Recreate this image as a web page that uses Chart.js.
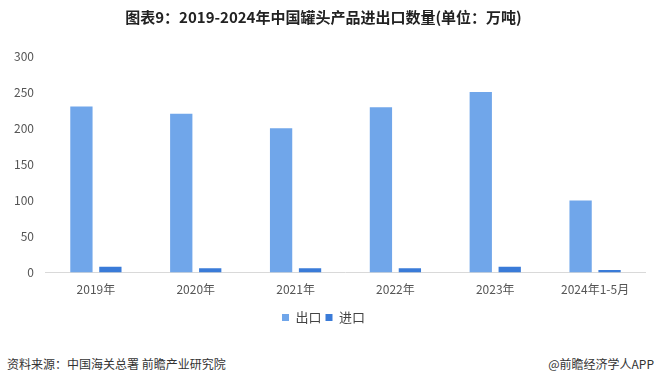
<!DOCTYPE html>
<html>
<head>
<meta charset="utf-8">
<script src="https://cdn.jsdelivr.net/npm/chart.js@4/dist/chart.umd.min.js"></script>
<style>
  html, body { margin: 0; padding: 0; background: #fff; }
  body { width: 660px; height: 385px; position: relative; overflow: hidden;
         font-family: "Noto Sans CJK SC", "Noto Sans", sans-serif; }
  #wrap { position: absolute; left: 0; top: 0; width: 660px; height: 344px; }
  .foot { position: absolute; top: 355px; font-size: 12px; color: #333; }
  #src { left: 7px; }
  #app { right: 6px; }
</style>
</head>
<body>
<div id="wrap"><canvas id="chart"></canvas></div>
<div class="foot" id="src">资料来源：中国海关总署 前瞻产业研究院</div>
<div class="foot" id="app">@前瞻经济学人APP</div>
<script>
// 数据
const categories = ['2019年', '2020年', '2021年', '2022年', '2023年', '2024年1-5月'];
const exportValues = [230, 220, 200, 229, 250, 100];
const importValues = [8, 6, 6, 6, 8, 3.5];
const yTicks = [0, 50, 100, 150, 200, 250, 300];

const fontFamily = '"Noto Sans CJK SC", "Noto Sans", sans-serif';

new Chart(document.getElementById('chart'), {
    type: 'bar',
    data: {
        labels: categories,
        datasets: [
            {
                label: '出口',
                data: exportValues,
                backgroundColor: '#70a6ea',
                categoryPercentage: 0.58,
                barPercentage: 0.77
            },
            {
                label: '进口',
                data: importValues,
                backgroundColor: '#3a7bd8',
                categoryPercentage: 0.58,
                barPercentage: 0.77
            }
        ]
    },
    options: {
        responsive: true,
        maintainAspectRatio: false,
        animation: false,
        layout: { padding: { left: 2, right: 15, top: 0, bottom: 10 } },
        plugins: {
            title: {
                display: true,
                text: '图表9：2019-2024年中国罐头产品进出口数量(单位：万吨)',
                color: '#222',
                font: { family: fontFamily, size: 15, weight: 'bold' },
                padding: { top: 8, bottom: 30 }
            },
            legend: {
                position: 'bottom',
                labels: {
                    boxWidth: 7,
                    boxHeight: 7,
                    padding: 4,
                    color: '#444',
                    font: { family: fontFamily, size: 13 }
                }
            },
            tooltip: { enabled: false }
        },
        scales: {
            x: {
                grid: { display: false, drawTicks: false },
                border: { color: '#d9d9d9', width: 1 },
                ticks: {
                    color: '#555',
                    padding: 10,
                    font: { family: fontFamily, size: 12 }
                }
            },
            y: {
                min: 0,
                max: 300,
                afterBuildTicks: axis => {
                    axis.ticks = yTicks.map(v => ({ value: v }));
                },
                grid: { display: false, drawTicks: false },
                border: { display: false },
                ticks: {
                    color: '#555',
                    padding: 12,
                    font: { family: fontFamily, size: 12 }
                }
            }
        }
    }
});
</script>
</body>
</html>
